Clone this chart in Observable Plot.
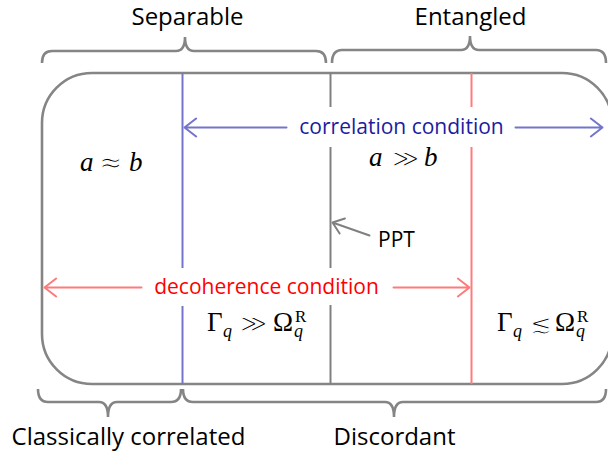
<!DOCTYPE html>
<html><head><meta charset="utf-8">
<script src="https://cdn.jsdelivr.net/npm/d3@7"></script>
<script src="https://cdn.jsdelivr.net/npm/@observablehq/plot@0.6"></script>
<style>body{margin:0;background:#fff}svg{display:block}</style>
</head><body><div id="chart"></div>
<script>
// ---- diagram content (diagram units) ----
const regionBox = [{x1: 42, x2: 612, y1: 73, y2: 384}];

const dividerSegments = [
  {x: 182, y1: 73,  y2: 268, kind: "corr"},
  {x: 182, y1: 306, y2: 384, kind: "corr"},
  {x: 330, y1: 73,  y2: 107, kind: "ppt"},
  {x: 330, y1: 147, y2: 268, kind: "ppt"},
  {x: 330, y1: 305, y2: 384, kind: "ppt"},
  {x: 471, y1: 73,  y2: 107, kind: "deco"},
  {x: 471, y1: 147, y2: 384, kind: "deco"}
];

const arrowSegments = [
  {x1: 286, y1: 127, x2: 184, y2: 127, kind: "corr"},
  {x1: 515, y1: 127, x2: 602, y2: 127, kind: "corr"},
  {x1: 141, y1: 287, x2: 44,  y2: 287, kind: "deco"},
  {x1: 393, y1: 287, x2: 469, y2: 287, kind: "deco"},
  {x1: 369, y1: 235, x2: 332, y2: 222, kind: "ppt"}
];

const braces = [
  {x1: 42,  x2: 326, xt: 185, ye: 63,  ym: 51,  yt: 37},
  {x1: 332, x2: 606, xt: 470, ye: 63,  ym: 50,  yt: 36},
  {x1: 38,  x2: 181, xt: 108, ye: 389, ym: 402, yt: 417},
  {x1: 183, x2: 606, xt: 394, ye: 389, ym: 402, yt: 417}
];

const braceLabels = ["Separable", "Entangled", "Classically correlated", "Discordant"];
const braceLabelX = [187, 470, 128, 394];
const braceLabelY = [17, 17, 437, 437];

const conditionLabels = ["correlation condition", "decoherence condition", "PPT"];
const conditionX = [401, 266, 396];
const conditionY = [127, 287, 240];
const conditionKind = ["corrText", "decoText", "pptText"];
const conditionSize = [21, 21, 21];

// math glyphs: [glyph, x, baseline, role]
const mathGlyphs = [
  ["a", 80, 171, "var"], ["≈", 99, 172, "rel"], ["b", 129, 171, "var"],
  ["a", 369, 166, "var"], ["≫", 392, 167, "rel"], ["b", 424, 166, "var"],
  ["Γ", 207, 331, "up"], ["q", 223, 337, "sub"], ["≫", 240, 332, "rel"], ["Ω", 273, 331, "up"], ["R", 295, 322, "sup"], ["q", 294, 337, "sub"],
  ["Γ", 497, 331, "up"], ["q", 513, 337, "sub"], ["≲", 530, 333, "rel"], ["Ω", 555, 331, "up"], ["R", 577, 322, "sup"], ["q", 576, 337, "sub"]
];
const relationSize = {"≈": 28, "≫": 26, "≲": 26};

const colorKinds = ["corr", "deco", "ppt", "corrText", "decoText", "pptText"];
const colorValues = ["#7474cc", "#ff7a7a", "#808080", "#1c1ca0", "#ff0000", "#000000"];

// ---- rendering ----
const sans = "'Open Sans', Lato, sans-serif";
const serif = "'Liberation Serif', 'DejaVu Serif', serif";

const braceMark = (index, scales) => {
  const X = scales.x, Y = scales.y;
  const g = d3.create("svg:g");
  const r = 10, rt = 9;
  for (const b of braces) {
    const p = `M${X(b.x1)},${Y(b.ye)} Q${X(b.x1)},${Y(b.ym)} ${X(b.x1 + r)},${Y(b.ym)} L${X(b.xt - rt)},${Y(b.ym)} Q${X(b.xt)},${Y(b.ym)} ${X(b.xt)},${Y(b.yt)} Q${X(b.xt)},${Y(b.ym)} ${X(b.xt + rt)},${Y(b.ym)} L${X(b.x2 - r)},${Y(b.ym)} Q${X(b.x2)},${Y(b.ym)} ${X(b.x2)},${Y(b.ye)}`;
    g.append("path").attr("d", p).attr("fill", "none").attr("stroke", "#858585").attr("stroke-width", 2.6);
  }
  return g.node();
};

const mathMark = (index, scales) => {
  const X = scales.x, Y = scales.y;
  const g = d3.create("svg:g").attr("text-anchor", "start");
  for (const [s, x, y, role] of mathGlyphs) {
    const t = g.append("text").attr("x", X(x)).attr("y", Y(y)).text(s).attr("fill", "#000");
    if (role === "rel") {
      t.attr("font-family", "'DejaVu Sans', sans-serif")
       .attr("font-size", relationSize[s])
       .attr("stroke", "#fff").attr("stroke-width", 1.1);
    } else {
      t.attr("font-family", serif)
       .attr("font-style", role === "var" || role === "sub" ? "italic" : "normal")
       .attr("font-size", role === "sub" ? 18 : role === "sup" ? 17 : 27);
    }
  }
  return g.node();
};

const plot = Plot.plot({
  width: 608, height: 453,
  marginTop: 0, marginRight: 0, marginBottom: 0, marginLeft: 0,
  x: {domain: [0, 608], range: [0, 608], axis: null},
  y: {domain: [0, 453], range: [0, 453], axis: null},
  color: {domain: colorKinds, range: colorValues},
  style: {background: "white", overflow: "visible"},
  marks: [
    Plot.rect(regionBox, {x1: "x1", x2: "x2", y1: "y1", y2: "y2", rx: 50, fill: "none", stroke: "#858585", strokeWidth: 2.6}),
    Plot.ruleX(dividerSegments, {x: "x", y1: "y1", y2: "y2", stroke: "kind", strokeWidth: 2}),
    Plot.arrow(arrowSegments, {x1: "x1", y1: "y1", x2: "x2", y2: "y2", stroke: "kind", strokeWidth: 2, headLength: 11, headAngle: 75}),
    braceMark,
    Plot.text(braceLabels, {x: (d, i) => braceLabelX[i], y: (d, i) => braceLabelY[i], text: d => d, fontFamily: sans, fontSize: 24, fill: "#000"}),
    Plot.text(conditionLabels, {x: (d, i) => conditionX[i], y: (d, i) => conditionY[i], text: d => d, fill: (d, i) => conditionKind[i], fontFamily: sans, fontSize: (d, i) => conditionSize[i]}),
    mathMark
  ]
});
document.getElementById("chart").appendChild(plot);
</script>
</body></html>
